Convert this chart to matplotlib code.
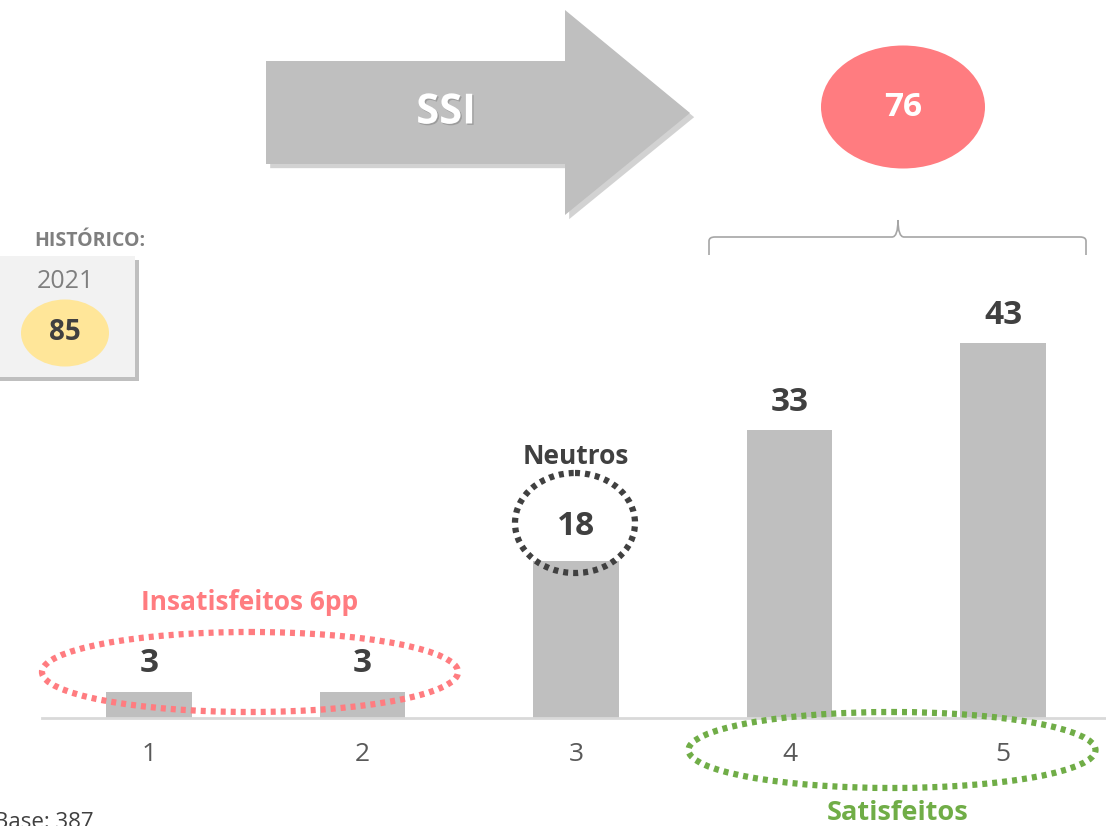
import matplotlib
matplotlib.use("Agg")
import matplotlib.pyplot as plt
import matplotlib.patheffects as pe
from matplotlib.patches import Ellipse, Polygon, Rectangle
from matplotlib.path import Path
from matplotlib.patches import PathPatch

plt.rcParams['font.family'] = ['Open Sans', 'DejaVu Sans']

# data
categories = ['1', '2', '3', '4', '5']
values = [3, 3, 18, 33, 43]
ssi_value = 76
hist_year = '2021'
hist_value = 85
base_n = 387

BAR = '#BFBFBF'
DARK = '#404040'
GREY = '#7F7F7F'
RED = '#FF7C80'
GREEN = '#70AD47'

W, H = 1106, 826
fig = plt.figure(figsize=(W / 100, H / 100), dpi=100)

# bar axes, baseline at y=718px
ax = fig.add_axes([42 / W, (H - 718) / H, (1110 - 42) / W, 718 / H])
x = list(range(1, len(categories) + 1))
ax.bar(x, values, width=0.4, color=BAR, zorder=2)
ax.set_xlim(0.5, 5.5)
ax.set_ylim(0, 718 / 8.72)
ax.set_xticks(x)
ax.set_xticklabels(categories, fontsize=19, color='#595959')
ax.tick_params(axis='x', length=0, pad=17)
ax.tick_params(axis='y', left=False, labelleft=False)
for s in ['top', 'right', 'left']:
    ax.spines[s].set_visible(False)
ax.spines['bottom'].set_color('#D9D9D9')
ax.spines['bottom'].set_linewidth(2)
ax.patch.set_alpha(0)

for xi, v in zip(x, values):
    off = 4.0 if xi == 3 else 3.2
    ax.text(xi, v + off, str(v), ha='center', va='center', fontsize=24,
            fontweight='bold', color=DARK, zorder=5)

# overlay in pixel coordinates for the decorations
deco = fig.add_axes([0, 0, 1, 1], zorder=3)
deco.set_xlim(0, W)
deco.set_ylim(H, 0)
deco.axis('off')
deco.patch.set_alpha(0)

shadow = [pe.SimplePatchShadow(offset=(3, -3), shadow_rgbFace='#808080', alpha=0.35), pe.Normal()]

# big arrow
arrow = Polygon([(266, 61), (565, 61), (565, 10), (690, 113), (565, 215),
                 (565, 164), (266, 164)], closed=True, facecolor=BAR,
                edgecolor='none', path_effects=shadow)
deco.add_patch(arrow)
deco.text(446, 113, 'SSI', ha='center', va='center', fontsize=30, fontweight='bold',
          color='white', path_effects=[pe.withSimplePatchShadow(offset=(1, -1), alpha=0.3)])

# SSI result
deco.add_patch(Ellipse((903, 107), 164, 123, facecolor=RED, edgecolor='none'))
deco.text(903, 107, str(ssi_value), ha='center', va='center', fontsize=24,
          fontweight='bold', color='white')

# curly brace over 4 and 5
bx0, bx1, bym, btop, bbot, bc = 709, 1086, 237, 220, 255, 898
verts = [(bx0, bbot), (bx0, bym + 4), (bx0, bym), (bx0 + 6, bym),
         (bc - 6, bym), (bc, bym), (bc, btop),
         (bc, bym), (bc + 6, bym), (bx1 - 6, bym),
         (bx1, bym), (bx1, bym + 4), (bx1, bbot)]
codes = [Path.MOVETO, Path.LINETO, Path.CURVE3, Path.CURVE3,
         Path.LINETO, Path.CURVE3, Path.CURVE3,
         Path.CURVE3, Path.CURVE3, Path.LINETO,
         Path.CURVE3, Path.CURVE3, Path.LINETO]
deco.add_patch(PathPatch(Path(verts, codes), facecolor='none', edgecolor='#A6A6A6', lw=1.2))

# history box
deco.text(90, 241, 'HISTÓRICO:', ha='center', va='center', fontsize=14,
          fontweight='bold', color=GREY)
deco.add_patch(Rectangle((-5, 256), 140, 121, facecolor='#F2F2F2', edgecolor='none',
                         path_effects=[pe.SimplePatchShadow(offset=(3, -3), alpha=0.35), pe.Normal()]))
deco.text(65, 282, hist_year, ha='center', va='center', fontsize=18, color=GREY)
deco.add_patch(Ellipse((65, 333), 88, 67, facecolor='#FFE699', edgecolor='none'))
deco.text(65, 333, str(hist_value), ha='center', va='center', fontsize=20,
          fontweight='bold', color=DARK)

# group outlines
deco.add_patch(Ellipse((575, 523), 120, 100, facecolor='none', edgecolor=DARK,
                       lw=4.5, linestyle=(0, (0.8, 0.8))))
deco.text(576, 457, 'Neutros', ha='center', va='center', fontsize=19,
          fontweight='bold', color=DARK)

deco.add_patch(Ellipse((250, 672), 416, 80, facecolor='none', edgecolor=RED,
                       lw=4.5, linestyle=(0, (0.8, 0.8))))
deco.text(250, 603, 'Insatisfeitos 6pp', ha='center', va='center', fontsize=19,
          fontweight='bold', color=RED)

deco.add_patch(Ellipse((892, 750), 407, 76, facecolor='none', edgecolor=GREEN,
                       lw=4.5, linestyle=(0, (0.8, 0.8))))
deco.text(898, 813, 'Satisfeitos', ha='center', va='center', fontsize=19.5,
          fontweight='bold', color=GREEN)

deco.text(-6, 823, f'Base: {base_n}', ha='left', va='center', fontsize=16, color='#404040')

fig.savefig('out.png', dpi=100)
